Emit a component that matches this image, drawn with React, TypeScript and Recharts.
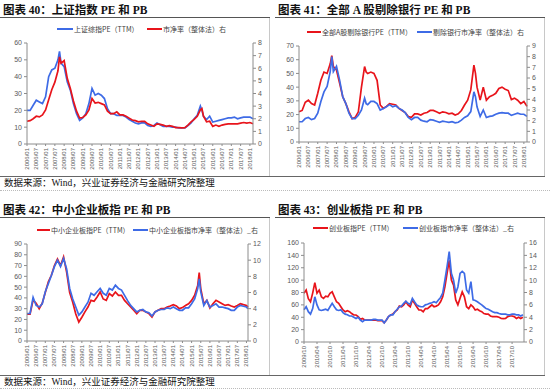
import React from "react";
import { Line, LineChart, XAxis, YAxis } from "recharts";

// ---- data ----

const xTicksA = [
  "2006/01", "2006/07", "2007/01", "2007/07", "2008/01", "2008/07", "2009/01", "2009/07",
  "2010/01", "2010/07", "2011/01", "2011/07", "2012/01", "2012/07", "2013/01", "2013/07",
  "2014/01", "2014/07", "2015/01", "2015/07", "2016/01", "2016/07", "2017/01", "2017/07", "2018/01",
];
const xTicksB = [
  "2009/10", "2010/04", "2010/10", "2011/04", "2011/10", "2012/04", "2012/10", "2013/04", "2013/10",
  "2014/04", "2014/10", "2015/04", "2015/10", "2016/04", "2016/10", "2017/04", "2017/10",
];

// 图表40 上证指数
const dates40 = [
  "2006/01", "2006/03", "2006/05", "2006/07", "2006/09", "2006/11",
  "2007/01", "2007/03", "2007/05", "2007/07", "2007/09", "2007/10", "2007/11",
  "2008/01", "2008/03", "2008/05", "2008/07", "2008/09", "2008/11",
  "2009/01", "2009/03", "2009/05", "2009/07", "2009/09", "2009/11",
  "2010/01", "2010/03", "2010/05", "2010/07", "2010/09", "2010/11",
  "2011/01", "2011/03", "2011/05", "2011/07", "2011/09", "2011/11",
  "2012/01", "2012/03", "2012/05", "2012/07", "2012/09", "2012/11",
  "2013/01", "2013/03", "2013/05", "2013/07", "2013/09", "2013/11",
  "2014/01", "2014/03", "2014/05", "2014/07", "2014/09", "2014/11",
  "2015/01", "2015/03", "2015/05", "2015/06", "2015/07", "2015/09", "2015/11",
  "2016/01", "2016/03", "2016/05", "2016/07", "2016/09", "2016/11",
  "2017/01", "2017/03", "2017/05", "2017/07", "2017/09", "2017/11",
  "2018/01", "2018/03",
];
const pe40 = [
  20, 20, 23, 26, 25, 24,
  28, 40, 44, 45, 50, 55, 48,
  46, 37, 32, 24, 18, 14,
  15.5, 18, 24, 33, 29, 30,
  29, 27, 21, 18, 18, 17,
  17, 17, 16, 14.5, 13.5, 12.5,
  12, 12.5, 12.5, 11, 10.5, 11,
  12.5, 11.5, 10.5, 10.5, 10.5, 10,
  10, 9.5, 9.5, 9.5, 11, 12.5,
  15, 17, 22.5, 20, 16.5, 14.5, 16.5,
  13, 13.5, 14, 14.5, 15, 15.5,
  15.5, 16, 15, 15.5, 16, 16,
  16, 15,
];
const pb40 = [
  1.8, 1.85, 2.0, 2.2, 2.15, 2.3,
  2.7, 3.5, 4.3, 4.9, 5.8, 6.9, 6.4,
  6.6, 5.2, 4.4, 3.4, 2.6, 2.05,
  2.1, 2.3, 2.7, 3.6, 3.25, 3.3,
  3.2, 3.1, 2.6, 2.4, 2.4, 2.55,
  2.3, 2.3, 2.2, 2.05, 1.9, 1.85,
  1.75, 1.8, 1.8, 1.6, 1.5, 1.4,
  1.6, 1.55, 1.5, 1.4, 1.45, 1.4,
  1.3, 1.3, 1.27, 1.3, 1.5, 1.75,
  1.95, 2.2, 2.7, 2.8, 2.2, 1.75, 1.8,
  1.4, 1.5, 1.4, 1.5, 1.55, 1.6,
  1.6, 1.6, 1.6, 1.65, 1.7, 1.65,
  1.7, 1.6,
];

// 图表41 全部A股剔除银行
const dates41 = [
  "2006/01", "2006/03", "2006/05", "2006/07", "2006/09", "2006/11",
  "2007/01", "2007/03", "2007/05", "2007/07", "2007/09", "2007/10", "2007/11",
  "2008/01", "2008/03", "2008/05", "2008/07", "2008/09", "2008/11",
  "2009/01", "2009/03", "2009/05", "2009/07", "2009/08", "2009/09", "2009/11",
  "2010/01", "2010/03", "2010/05", "2010/07", "2010/09", "2010/11",
  "2011/01", "2011/03", "2011/05", "2011/07", "2011/09", "2011/11",
  "2012/01", "2012/03", "2012/05", "2012/07", "2012/09", "2012/11",
  "2013/01", "2013/03", "2013/05", "2013/07", "2013/09", "2013/11",
  "2014/01", "2014/03", "2014/05", "2014/07", "2014/09", "2014/11",
  "2015/01", "2015/03", "2015/05", "2015/06", "2015/07", "2015/09", "2015/11",
  "2016/01", "2016/03", "2016/05", "2016/07", "2016/09", "2016/11",
  "2017/01", "2017/03", "2017/05", "2017/07", "2017/09", "2017/11",
  "2018/01", "2018/03",
];
const pe41 = [
  22, 23, 29, 30.5, 28, 27,
  35.5, 45, 51, 50, 57, 63, 55,
  52.5, 43, 33, 28, 22, 17,
  18, 22, 40, 55, 51, 50, 51,
  50, 45, 27, 24.5, 26, 28,
  27.5, 27, 24.5, 23, 21.5, 18.5,
  18, 20.5, 20.5, 19.7, 21, 21.5,
  23, 23, 22, 21, 22, 21.5,
  20.5, 21, 19.7, 20.5, 23, 27,
  30.5, 38, 56, 50, 40, 30.5, 40,
  30.5, 33, 34, 35.5, 39, 40,
  38.5, 37.5, 31, 32, 30.5, 28,
  29.5, 26,
];
const pb41 = [
  1.9, 1.9, 2.2, 2.3, 2.1, 2.2,
  2.7, 3.8, 4.7, 5.2, 6.6, 8.0, 6.6,
  7.1, 5.8, 4.25, 3.6, 2.7, 2.2,
  2.2, 2.5, 3.0, 4.1, 3.6, 3.5, 3.8,
  3.8, 3.6, 3.0, 3.15, 3.3, 3.5,
  3.3, 3.4, 3.15, 3.0, 2.75, 2.3,
  2.1, 2.3, 2.3, 2.05, 1.95, 1.9,
  2.1, 2.05, 1.95, 1.85, 1.95, 1.9,
  1.85, 1.9, 1.8, 1.85, 2.05, 2.3,
  2.45, 2.85, 4.7, 4.25, 3.3, 2.4, 3.0,
  2.3, 2.4, 2.45, 2.6, 2.7, 2.75,
  2.7, 2.7, 2.5, 2.6, 2.7, 2.6,
  2.6, 2.4,
];

// 图表42 中小企业板指
const dates42 = [
  "2006/01", "2006/03", "2006/05", "2006/07", "2006/09", "2006/11",
  "2007/01", "2007/03", "2007/05", "2007/07", "2007/09", "2007/11",
  "2008/01", "2008/03", "2008/05", "2008/07", "2008/09", "2008/11",
  "2009/01", "2009/03", "2009/05", "2009/07", "2009/09", "2009/11",
  "2010/01", "2010/03", "2010/05", "2010/07", "2010/09", "2010/11",
  "2011/01", "2011/03", "2011/05", "2011/07", "2011/09", "2011/11",
  "2012/01", "2012/03", "2012/05", "2012/07", "2012/09", "2012/11",
  "2013/01", "2013/03", "2013/05", "2013/07", "2013/09", "2013/11",
  "2014/01", "2014/03", "2014/05", "2014/07", "2014/09", "2014/11",
  "2015/01", "2015/03", "2015/05", "2015/06", "2015/07", "2015/09", "2015/11",
  "2016/01", "2016/03", "2016/05", "2016/07", "2016/09", "2016/11",
  "2017/01", "2017/03", "2017/05", "2017/07", "2017/09", "2017/11",
  "2018/01", "2018/02",
];
const pe42 = [
  25, 25, 38, 35, 30, 35,
  45, 55, 61, 70, 76, 70,
  78, 64, 45, 36, 25, 17.6,
  22, 27, 31.5, 37.7, 36.8, 40.8,
  45.5, 39, 37.7, 44, 41.8, 45.5,
  42.4, 42.4, 37.7, 34.6, 31.5, 28.5,
  25.4, 28.5, 28.5, 27, 25.4, 22.3,
  27, 28.5, 30, 30, 31.5, 32.5,
  33.7, 32.5, 30, 31, 33, 34.6,
  37.7, 42.4, 51.6, 63.4, 48.6, 34.6, 37.7,
  30.6, 34.6, 37.7, 36.2, 34.6, 33,
  33.7, 32.5, 31.5, 33, 34.6, 33.7,
  33, 31.5,
];
const pb42 = [
  3.4, 3.4, 5.4, 4.4, 4.2, 4.6,
  6.1, 7.1, 8.1, 9.2, 10.0, 9.2,
  10.2, 8.9, 6.5, 5.2, 4.2, 3.2,
  3.6, 4.2, 4.8, 5.9, 5.65, 6.1,
  6.5, 5.9, 5.65, 6.5, 6.3, 6.9,
  6.5, 6.3, 5.65, 5.0, 4.4, 4.0,
  3.6, 3.8, 3.9, 3.6, 3.5, 3.1,
  3.6, 3.8, 3.9, 3.9, 4.1, 4.0,
  4.2, 4.0, 3.8, 3.8, 4.1, 4.1,
  4.6, 5.2, 6.5, 7.7, 6.1, 4.4, 5.0,
  4.2, 4.4, 4.6, 4.2, 4.2, 4.1,
  4.0, 3.8, 3.8, 4.2, 4.4, 4.3,
  4.2, 4.0,
];

// 图表43 创业板指 (monthly from 2009/10)
const dates43 = [
  "2009/10", "2009/11", "2009/12",
  "2010/01", "2010/02", "2010/03", "2010/04", "2010/05", "2010/06", "2010/07", "2010/08", "2010/09", "2010/10", "2010/11", "2010/12",
  "2011/01", "2011/02", "2011/03", "2011/04", "2011/05", "2011/06", "2011/07", "2011/08", "2011/09", "2011/10", "2011/11", "2011/12",
  "2012/01", "2012/02", "2012/03", "2012/04", "2012/05", "2012/06", "2012/07", "2012/08", "2012/09", "2012/10", "2012/11", "2012/12",
  "2013/01", "2013/02", "2013/03", "2013/04", "2013/05", "2013/06", "2013/07", "2013/08", "2013/09", "2013/10", "2013/11", "2013/12",
  "2014/01", "2014/02", "2014/03", "2014/04", "2014/05", "2014/06", "2014/07", "2014/08", "2014/09", "2014/10", "2014/11", "2014/12",
  "2015/01", "2015/02", "2015/03", "2015/04", "2015/05", "2015/06", "2015/07", "2015/08", "2015/09", "2015/10", "2015/11", "2015/12",
  "2016/01", "2016/02", "2016/03", "2016/04", "2016/05", "2016/06", "2016/07", "2016/08", "2016/09", "2016/10", "2016/11", "2016/12",
  "2017/01", "2017/02", "2017/03", "2017/04", "2017/05", "2017/06", "2017/07", "2017/08", "2017/09", "2017/10", "2017/11", "2017/12",
  "2018/01", "2018/02", "2018/03",
];
const pe43 = [
  78.7, 84, 70,
  65, 79, 96, 79, 84, 73, 70.6, 74, 73, 78.7, 81, 73,
  65, 62.5, 57, 51.7, 49, 50.6, 49, 46, 43.6, 43.6, 41, 36.6,
  38, 35.5, 35.5, 35.5, 35.5, 35.5, 35.5, 34.5, 34.5, 34.5, 31, 35.5,
  41, 43.6, 45, 49, 51.7, 58, 57, 60, 65, 60, 57, 68,
  62.5, 57, 51.7, 51.7, 49, 54, 54, 57, 60, 57, 58, 60,
  65, 73, 89, 111, 132, 100, 92, 68, 60, 70.6, 81, 73,
  57, 54, 60, 57, 51.7, 53, 50.6, 49, 46, 45, 45, 42,
  41, 41, 41, 40, 38, 37.7, 38, 41, 42, 42, 41, 38,
  40, 38, 40,
];
const pb43 = [
  5.2, 5.7, 4.9,
  4.5, 5.4, 7.3, 6.0, 5.2, 5.1, 5.2, 5.3, 5.1, 5.7, 6.25, 5.7,
  5.2, 5.1, 5.2, 4.75, 4.5, 4.4, 4.2, 4.2, 4.0, 3.8, 4.0, 3.55,
  3.3, 3.55, 3.55, 3.55, 3.55, 3.65, 3.65, 3.55, 3.55, 3.55, 3.1, 3.55,
  4.1, 4.4, 4.4, 4.9, 5.3, 5.7, 5.8, 6.25, 6.6, 6.25, 6.1, 7.05,
  6.5, 6.0, 5.8, 5.7, 5.7, 6.0, 6.1, 6.25, 6.35, 6.5, 6.35, 6.8,
  7.2, 7.9, 10.0, 12.2, 14.6, 11.1, 10.0, 7.9, 8.9, 11.1, 11.4, 11.1,
  8.4, 7.9, 9.75, 6.8, 6.7, 6.5, 6.25, 6.0, 5.7, 5.4, 5.3, 5.1,
  4.9, 4.75, 4.75, 4.6, 4.5, 4.5, 4.5, 4.4, 4.4, 4.5, 4.5, 4.4,
  4.4, 4.2, 4.4,
];

const yTicks40L = [0, 10, 20, 30, 40, 50, 60];
const yTicks40R = [0, 1, 2, 3, 4, 5, 6, 7, 8];
const yTicks41L = [0, 10, 20, 30, 40, 50, 60, 70];
const yTicks41R = [0, 1, 2, 3, 4, 5, 6, 7, 8, 9];
const yTicks42L = [0, 10, 20, 30, 40, 50, 60, 70, 80, 90];
const yTicks42R = [0, 2, 4, 6, 8, 10, 12];
const yTicks43L = [0, 20, 40, 60, 80, 100, 120, 140, 160];
const yTicks43R = [0, 2, 4, 6, 8, 10, 12, 14, 16];

// ---- styling ----

const RED = "#E8141B";
const BLUE = "#3E6BE6";
const AXIS = "#8c8c8c";
const LABEL = "#595959";
const SANS = '"Liberation Sans", Arial, sans-serif';
const CJK = '"Noto Sans CJK SC", sans-serif';
const SERIF = '"Liberation Serif", "Noto Sans CJK SC", serif';

function toIndex(d: string, base: string) {
  const [y, m] = d.split("/").map(Number);
  const [by, bm] = base.split("/").map(Number);
  return (y - by) * 12 + (m - bm);
}

function fromIndex(t: number, base: string) {
  const [by, bm] = base.split("/").map(Number);
  const total = by * 12 + (bm - 1) + t;
  const y = Math.floor(total / 12);
  const m = (total % 12) + 1;
  return `${y}/${String(m).padStart(2, "0")}`;
}

function XTick(props: any) {
  const { x, y, payload, base } = props;
  return (
    <text
      x={x}
      y={y}
      transform={`rotate(-90 ${x} ${y})`}
      textAnchor="end"
      dominantBaseline="central"
      fontSize={6}
      fill={LABEL}
      fontFamily={SANS}
    >
      {fromIndex(payload.value, base)}
    </text>
  );
}

type ChartProps = {
  left: number;
  top: number;
  height: number;
  off: [number, number, number, number]; // left, right, top, bottom
  base: string;
  dates: string[];
  pe: number[];
  pb: number[];
  xTicks: string[];
  xMax: number;
  lTicks: number[];
  rTicks: number[];
  peColor: string;
  pbColor: string;
};

function PePbChart(p: ChartProps) {
  const rows = p.dates.map((d, i) => ({ t: toIndex(d, p.base), pe: p.pe[i], pb: p.pb[i] }));
  const ticks = p.xTicks.map((d) => toIndex(d, p.base));
  const yTick = { fontSize: 7, fill: LABEL, fontFamily: SANS };
  return (
    <div style={{ position: "absolute", left: p.left, top: p.top }}>
      <LineChart
        width={269}
        height={p.height}
        data={rows}
        margin={{ top: p.off[2], right: 0, bottom: 0, left: 0 }}
      >
        <XAxis
          dataKey="t"
          type="number"
          domain={[0, p.xMax]}
          ticks={ticks}
          interval={0}
          height={p.off[3]}
          tickSize={2}
          tickMargin={2}
          axisLine={{ stroke: AXIS }}
          tickLine={{ stroke: AXIS }}
          tick={(tp: any) => <XTick {...tp} base={p.base} />}
        />
        <YAxis
          yAxisId="l"
          domain={[p.lTicks[0], p.lTicks[p.lTicks.length - 1]]}
          ticks={p.lTicks}
          interval={0}
          width={p.off[0]}
          tickSize={3}
          axisLine={{ stroke: AXIS }}
          tickLine={{ stroke: AXIS }}
          tick={yTick}
        />
        <YAxis
          yAxisId="r"
          orientation="right"
          domain={[p.rTicks[0], p.rTicks[p.rTicks.length - 1]]}
          ticks={p.rTicks}
          interval={0}
          width={p.off[1]}
          tickSize={3}
          axisLine={{ stroke: AXIS }}
          tickLine={{ stroke: AXIS }}
          tick={yTick}
        />
        <Line
          yAxisId="l"
          type="linear"
          dataKey="pe"
          stroke={p.peColor}
          strokeWidth={1.7}
          dot={false}
          isAnimationActive={false}
        />
        <Line
          yAxisId="r"
          type="linear"
          dataKey="pb"
          stroke={p.pbColor}
          strokeWidth={1.7}
          dot={false}
          isAnimationActive={false}
        />
      </LineChart>
    </div>
  );
}

type LegendItem = { x: number; w: number; color: string; label: string };

function LegendRow({ y, items }: { y: number; items: LegendItem[] }) {
  return (
    <>
      {items.map((it) => (
        <React.Fragment key={it.label}>
          <div
            style={{ position: "absolute", left: it.x, top: y - 1, width: it.w, height: 2, background: it.color }}
          />
          <span
            style={{
              position: "absolute",
              left: it.x + it.w + 1,
              top: y - 5,
              lineHeight: "10px",
              fontSize: 7,
              color: "#404040",
              fontFamily: CJK,
              whiteSpace: "nowrap",
            }}
          >
            {it.label}
          </span>
        </React.Fragment>
      ))}
    </>
  );
}

function Frame({ x, y, bottom, title }: { x: number; y: number; bottom: number; title: string }) {
  return (
    <>
      <div
        style={{
          position: "absolute",
          left: x + 3,
          top: y + 3,
          fontSize: 11.5,
          lineHeight: "14px",
          fontWeight: "bold",
          fontFamily: SERIF,
          color: "#111",
          whiteSpace: "nowrap",
        }}
      >
        {title}
      </div>
      <div style={{ position: "absolute", left: x, top: y + 17, width: 270, height: 1, background: "#555" }} />
      <div
        style={{ position: "absolute", left: x + 269, top: y + 18, width: 1, height: bottom - y - 18, background: "#c8c8c8" }}
      />
    </>
  );
}

const sourceText = "数据来源：Wind，兴业证券经济与金融研究院整理";

function Source({ y }: { y: number }) {
  return (
    <div
      style={{
        position: "absolute",
        left: 4,
        top: y,
        fontSize: 9.5,
        lineHeight: "12px",
        fontFamily: SERIF,
        color: "#111",
        whiteSpace: "nowrap",
      }}
    >
      {sourceText}
    </div>
  );
}

export default function App() {
  return (
    <div
      style={{
        position: "absolute",
        left: 0,
        top: 0,
        width: 550,
        height: 390,
        background: "#fff",
        overflow: "hidden",
      }}
    >
      {/* top row */}
      <Frame x={0} y={0} bottom={176} title="图表 40：上证指数 PE 和 PB" />
      <Frame x={275} y={0} bottom={176} title="图表 41：全部 A 股剔除银行 PE 和 PB" />
      <div style={{ position: "absolute", left: 0, top: 176, width: 545, height: 1, background: "#666" }} />
      <Source y={177} />
      <div style={{ position: "absolute", left: 0, top: 190, width: 550, borderTop: "1px dotted #bbb" }} />

      <LegendRow
        y={29}
        items={[
          { x: 57, w: 16, color: BLUE, label: "上证综指PE（TTM）" },
          { x: 147, w: 15, color: RED, label: "市净率（整体法）右" },
        ]}
      />
      <PePbChart
        left={0}
        top={17}
        height={159}
        off={[27, 16, 26, 32]}
        base="2006/01"
        dates={dates40}
        pe={pe40}
        pb={pb40}
        xTicks={xTicksA}
        xMax={146}
        lTicks={yTicks40L}
        rTicks={yTicks40R}
        peColor={BLUE}
        pbColor={RED}
      />

      <LegendRow
        y={32}
        items={[
          { x: 307, w: 14, color: RED, label: "全部A股剔除银行PE（TTM）" },
          { x: 417, w: 15, color: BLUE, label: "剔除银行市净率（整体法）右" },
        ]}
      />
      <PePbChart
        left={275}
        top={17}
        height={159}
        off={[24, 17, 29, 34]}
        base="2006/01"
        dates={dates41}
        pe={pe41}
        pb={pb41}
        xTicks={xTicksA}
        xMax={146}
        lTicks={yTicks41L}
        rTicks={yTicks41R}
        peColor={RED}
        pbColor={BLUE}
      />

      {/* bottom row */}
      <Frame x={0} y={200} bottom={375} title="图表 42：中小企业板指 PE 和 PB" />
      <Frame x={275} y={200} bottom={375} title="图表 43：创业板指 PE 和 PB" />
      <div style={{ position: "absolute", left: 0, top: 375, width: 545, height: 1, background: "#666" }} />
      <Source y={376} />
      <div style={{ position: "absolute", left: 0, top: 388, width: 550, borderTop: "1px dotted #bbb" }} />

      <LegendRow
        y={230}
        items={[
          { x: 37, w: 13, color: RED, label: "中小企业板指PE（TTM）" },
          { x: 133, w: 15, color: BLUE, label: "中小企业板指市净率（整体法）_右" },
        ]}
      />
      <PePbChart
        left={0}
        top={217}
        height={158}
        off={[27, 21, 27, 34]}
        base="2006/01"
        dates={dates42}
        pe={pe42}
        pb={pb42}
        xTicks={xTicksA}
        xMax={145}
        lTicks={yTicks42L}
        rTicks={yTicks42R}
        peColor={RED}
        pbColor={BLUE}
      />

      <LegendRow
        y={228}
        items={[
          { x: 313, w: 15, color: RED, label: "创业板指PE（TTM）" },
          { x: 403, w: 15, color: BLUE, label: "创业板指市净率（整体法）_右" },
        ]}
      />
      <PePbChart
        left={275}
        top={217}
        height={158}
        off={[29, 20, 26, 33]}
        base="2009/10"
        dates={dates43}
        pe={pe43}
        pb={pb43}
        xTicks={xTicksB}
        xMax={101.5}
        lTicks={yTicks43L}
        rTicks={yTicks43R}
        peColor={RED}
        pbColor={BLUE}
      />
    </div>
  );
}
